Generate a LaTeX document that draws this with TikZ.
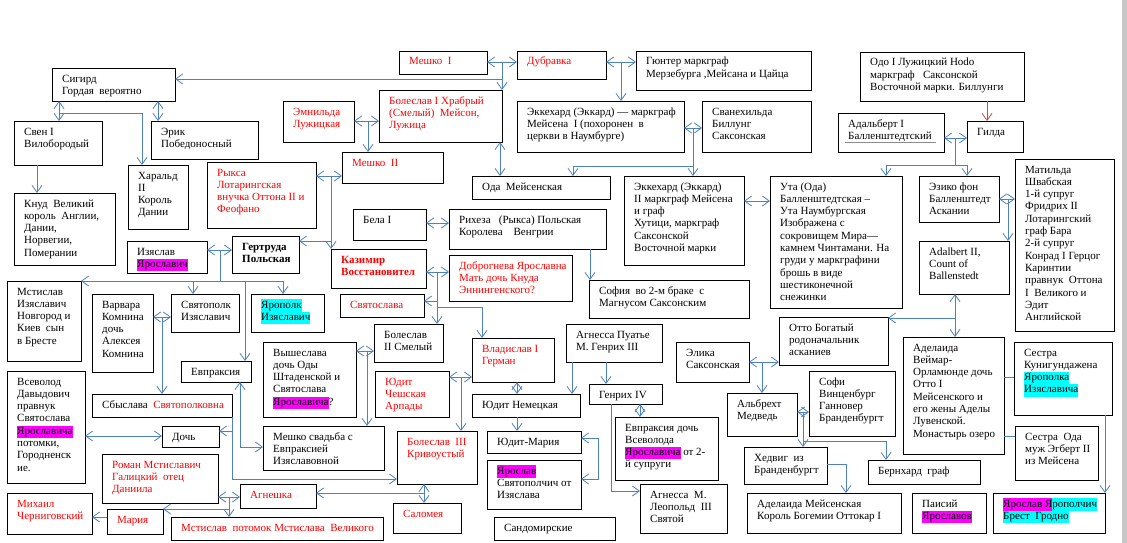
\documentclass[tikz,border=0pt]{standalone}
\usepackage{fontspec}
\setmainfont{Liberation Serif}
\usetikzlibrary{arrows.meta,calc}
\definecolor{conn}{RGB}{79,129,189}
\definecolor{hlmag}{RGB}{255,0,255}
\definecolor{hlcya}{RGB}{0,255,255}
\definecolor{odoc}{RGB}{192,80,77}
\newcommand\hlM[1]{{\setlength{\fboxsep}{0pt}\colorbox{hlmag}{\strut #1}}}
\newcommand\hlC[1]{{\setlength{\fboxsep}{0pt}\colorbox{hlcya}{\strut #1}}}
\newcommand\famb[7][]{%
  \node[box, minimum width={(#5-#3)*1pt}, minimum height={(#6-#4)*1pt}] (#2) at (#3,#4) {};
  \node[txt,#1] at ([shift={(10pt,-14pt)}]#2.north west) {\parbox[t]{300pt}{\raggedright #7}};
}
\begin{document}
\begin{tikzpicture}[x=1pt,y=-1pt,
  box/.style={draw=black, line width=0.8pt, fill=white, anchor=north west, inner sep=0pt, outer sep=0pt},
  txt/.style={anchor=base west, inner sep=0pt, font=\fontsize{11}{12.3}\selectfont},
  bld/.style={font=\fontsize{11}{12.3}\selectfont\bfseries},
  ar/.style={draw=conn, line width=0.8pt, -{Straight Barb[length=7pt,width=10pt]}},
  dbl/.style={draw=conn, line width=0.8pt, {Straight Barb[length=7pt,width=10pt]}-{Straight Barb[length=7pt,width=10pt]}},
  ln/.style={draw=conn, line width=0.8pt},
  arr/.style={draw=odoc, line width=0.8pt, -{Straight Barb[length=7pt,width=10pt]}}]
\useasboundingbox (0,0) rectangle (1127,543);
\fill[white] (0,0) rectangle (1127,543);
\fill[black!22] (1122,0) rectangle (1127,543);

% ---------- boxes ----------
\famb{sig}{52}{68}{175}{101}{Сигирд\\Гордая\ \ вероятно}
\famb{sven}{14}{121}{102}{165}{Свен I\\Вилобородый}
\famb{erik}{151}{121}{258}{159}{Эрик\\Победоносный}
\famb{harald}{128}{165}{188}{229}{Харальд\\II\\Король\\Дании}
\famb{knud}{14}{193}{115}{265}{Кнуд\ \ Великий\\король\ \ Англии,\\Дании,\\Норвегии,\\Померании}
\famb[text=red]{ryksa}{207}{162}{316}{228}{Рыкса\\Лотарингская\\внучка Оттона II и\\Феофано}
\famb[text=red]{emn}{283}{101}{354}{142}{Эмнильда\\Лужицкая}
\famb[text=red]{meshko1}{399}{51}{487}{74}{Мешко\ \ I}
\famb[text=red]{dubr}{517}{51}{606}{79}{Дубравка}
\famb{gunter}{636}{51}{811}{90}{Гюнтер маркграф\\Мерзебурга ,Мейсана и Цайца}
\famb[text=red]{boles1}{379}{90}{502}{142}{Болеслав I Храбрый\\(Смелый)\ \ Мейсон,\\Лужица}
\famb[text=red]{meshko2}{342}{152}{443}{183}{Мешко\ \ II}
\famb{oda}{472}{176}{610}{199}{Ода\ \ Мейсенская}
\famb{ekk1}{517}{101}{684}{152}{Эккехард (Эккард) — маркграф\\Мейсена\ \ I (похоронен\ \ в\\церкви в Наумбурге)}
\famb{svan}{702}{101}{811}{152}{Сванехильда\\Биллунг\\Саксонская}
\famb{ekk2}{624}{176}{744}{265}{Эккехард (Эккард)\\II маркграф Мейсена\\и граф\\Хутици, маркграф\\Саксонской\\Восточной марки}
\famb{uta}{770}{176}{902}{308}{Ута (Ода)\\Балленштедтская –\\Ута Наумбургская\\Изображена с\\сокровищем Мира—\\камнем Чинтамани. На\\груди у маркграфини\\брошь в виде\\шестиконечной\\снежинки}
\famb{odo}{860}{52}{1024}{101}{Одо I Лужицкий Hodo\\маркграф\ \ \ Саксонской\\Восточной марки. Биллунги}
\famb{gilda}{967}{121}{1023}{152}{Гилда}
\famb{adal1}{838}{113}{944}{152}{Адальберт I\\Балленштедтский}
\draw[black!45, line width=0.5pt] ([shift={(7pt,-29pt)}]adal1.north west) -- ++(91pt,0pt);
\famb{eziko}{919}{176}{999}{222}{Эзико фон\\Балленштедт\\Аскании}
\famb{matilda}{1015}{159}{1114}{331}{Матильда\\Швабская\\1-й супруг\\Фридрих II\\Лотарингский\\граф Бара\\2-й супруг\\Конрад I Герцог\\Каринтии\\правнук\ \ Оттона\\I\ \ Великого и\\Эдит\\Английской}
\famb{adal2}{919}{241}{1009}{294}{Adalbert II,\\Count of\\Ballenstedt}
\famb{otto}{779}{317}{888}{365}{Отто Богатый\\родоначальник\\асканиев}
\famb{adelw}{903}{337}{1004}{454}{Аделаида\\Веймар-\\Орламюнде дочь\\Отто I\\Мейсенского и\\его жены Аделы\\Лувенской.\\Монастырь озеро}
\famb{kunig}{1014}{342}{1112}{415}{Сестра\\Кунигундажена\\\hlC{Ярополка}\\\hlC{Изяславича}}
\famb{odasis}{1015}{426}{1098}{480}{Сестра\ \ Ода\\муж Эгберт II\\из Мейсена}
\famb{yarya}{993}{493}{1105}{533}{\hlM{Ярослав Я}\hlC{рополчич}\\\hlC{Брест\ \ Гродно}}
\famb{paisiy}{912}{493}{986}{533}{Паисий\\\hlM{Ярославов}}
\famb{bernh}{868}{460}{980}{484}{Бернхард\ \ граф}
\famb{sofi}{809}{371}{895}{436}{Софи\\Винценбург\\Ганновер\\Бранденбургт}
\famb{albr}{727}{393}{797}{436}{Альбрехт\\Медведь}
\famb{hedv}{744}{447}{827}{484}{Хедвиг\ \ из\\Бранденбургт}
\famb{adelm}{747}{493}{901}{533}{Аделаида Мейсенская\\Король Богемии Оттокар I}
\famb{elika}{676}{342}{749}{382}{Элика\\Саксонская}
\famb{sofia}{589}{280}{749}{318}{София\ \ во 2-м браке\ \ с\\Магнусом Саксонским}
\famb{agnp}{566}{324}{662}{362}{Агнесса Пуатье\\М. Генрих III}
\famb{henr4}{589}{384}{662}{404}{Генрих IV}
\famb{evpr2}{615}{417}{718}{480}{Евпраксия дочь\\Всеволода\\\hlM{Ярославича} от 2-\\й супруги}
\famb{agnm}{640}{484}{727}{533}{Агнесса\ \ М.\\Леопольд\ \ III\\Святой}
\famb{judn}{472}{394}{580}{417}{Юдит Немецкая}
\famb{judm}{487}{431}{581}{453}{Юдит-Мария}
\famb{yarsv}{487}{460}{581}{509}{\hlM{Ярослав}\\Святополчич от\\Изяслава}
\famb{sand}{494}{517}{615}{540}{Сандомирские}
\famb[text=red]{vlad}{472}{338}{554}{382}{Владислав I\\Герман}
\famb{bela}{353}{209}{426}{240}{Бела I}
\famb{rikh}{449}{209}{606}{249}{Рихеза\ \ \ (Рыкса) Польская\\Королева\ \ \ \ Венгрии}
\famb[text=red,bld]{kazim}{331}{249}{426}{288}{Казимир\\Восстановител}
\famb[text=red]{dobr}{449}{255}{572}{301}{Доброгнева Ярославна\\Мать дочь Кнуда\\Эннингенского?}
\famb[text=red]{svsl}{340}{294}{424}{317}{Святослава}
\famb{boles2}{374}{324}{443}{362}{Болеслав\\II Смелый}
\famb{izyas}{127}{241}{207}{273}{Изяслав\\\hlM{Ярославич}}
\famb[bld]{gert}{232}{236}{299}{273}{Гертруда\\Польская}
\famb{mstis}{7}{281}{81}{361}{Мстислав\\Изяславич\\Новгород и\\Киев\ \ сын\\в Бресте}
\famb{varv}{92}{294}{153}{372}{Варвара\\Комнина\\дочь\\Алексея\\Комнина}
\famb{svpk}{171}{294}{239}{332}{Святополк\\Изяславич}
\famb{yarop}{251}{294}{324}{332}{\hlC{Ярополк}\\\hlC{Изяславич}}
\famb{evpr1}{181}{361}{251}{382}{Евпраксия}
\famb{vysh}{263}{342}{356}{417}{Вышеслава\\дочь Оды\\Штаденской и\\Святослава\\\hlM{Ярославича}?}
\famb[text=red]{judch}{375}{371}{449}{417}{Юдит\\Чешская\\Арпады}
\famb{meshsv}{263}{426}{384}{470}{Мешко свадьба с\\Евпраксией\\Изяславовной}
\famb[text=red]{boles3}{397}{431}{477}{484}{Болеслав\ \ III\\Кривоустый}
\famb[text=red]{salom}{393}{503}{461}{533}{Саломея}
\famb[text=red]{agnesh}{240}{484}{316}{508}{Агнешка}
\famb{vsev}{7}{371}{85}{483}{Всеволод\\Давыдович\\правнук\\Святослава\\\hlM{Ярославича}\\потомки,\\Городненск\\ие.}
\famb{sbys}{92}{394}{232}{417}{Сбыслава\ \ \textcolor{red}{Святополковна}}
\famb{doch}{162}{426}{219}{447}{Дочь}
\famb[text=red]{roman}{102}{454}{218}{503}{Роман Мстиславич\\Галицкий\ \ отец\\Даниила}
\famb[text=red]{mikh}{7}{493}{92}{534}{Михаил\\Черниговский}
\famb[text=red]{maria}{107}{509}{163}{534}{Мария}
\famb[text=red]{mstpot}{171}{517}{383}{540}{Мстислав\ \ потомок Мстислава\ \ Великого}

% ---------- connectors ----------
\coordinate (jm1) at (502,62);
\draw[dbl] (meshko1.east |- jm1) -- (dubr.west |- jm1);
\draw[ar] (jm1) -- (jm1 |- boles1.north);
\coordinate (jm1b) at (502,79);
\draw[ar] (jm1b) -- (sig.east |- jm1b);

\coordinate (jg) at (621,62);
\draw[dbl] (dubr.east |- jg) -- (gunter.west |- jg);
\draw[ar] (jg) -- (jg |- ekk1.north);

\coordinate (je) at (368,121);
\draw[dbl] (emn.east |- je) -- (boles1.west |- je);
\draw[ar] (je) -- (je |- meshko2.north);

\coordinate (jbo) at (500,150);
\draw[dbl] (boles1.south -| jbo) -- (oda.north -| jbo);

\coordinate (js) at (59,113);
\draw[dbl] (sig.south -| js) -- (sven.north -| js);
\coordinate (jh) at (142,113);
\draw[ar] (js) -- (jh) -- (jh |- harald.north);
\coordinate (jer) at (158,110);
\draw[dbl] (sig.south -| jer) -- (erik.north -| jer);
\coordinate (jkn) at (37,180);
\draw[ar] (sven.south -| jkn) -- (knud.north -| jkn);

\coordinate (jes) at (693,128);
\draw[dbl] (ekk1.east |- jes) -- (svan.west |- jes);
\draw[ar] (jes) -- (jes |- ekk2.north);
\coordinate (jes2) at (693,166);
\coordinate (jes3) at (573,166);
\draw[ar] (jes2) -- (jes3) -- (jes3 |- oda.north);

\coordinate (jeu) at (757,201);
\draw[dbl] (ekk2.east |- jeu) -- (uta.west |- jeu);

\coordinate (jog) at (987,110);
\draw[arr] (odo.south -| jog) -- (gilda.north -| jog);

\coordinate (jag) at (955,138);
\draw[dbl] (adal1.east |- jag) -- (gilda.west |- jag);
\coordinate (jag2) at (955,165);
\coordinate (ju) at (886,165);
\coordinate (jz) at (967,165);
\draw[ar] (jag) -- (jag2) -- (ju) -- (ju |- uta.north);
\draw[ar] (jag2) -- (jz) -- (jz |- eziko.north);

\coordinate (jzm) at (1008,199);
\draw[dbl] (eziko.east |- jzm) -- (matilda.west |- jzm);
\draw[ar] (jzm) -- (jzm |- adal2.north);

\coordinate (jaa) at (955,318);
\draw[dbl] (adal2.south -| jaa) -- (adelw.north -| jaa);
\draw[ar] (jaa) -- (otto.east |- jaa);

\coordinate (jak) at (1009,377);
\draw[ln] (adelw.east |- jak) -- (kunig.west |- jak);
\coordinate (jao) at (1009,436);
\draw[ln] (adelw.east |- jao) -- (odasis.west |- jao);

\coordinate (jky) at (1105,460);
\draw[ar] (kunig.south -| jky) -- (yarya.north -| jky);

\coordinate (jeo) at (762,362);
\draw[dbl] (elika.east |- jeo) -- (otto.west |- jeo);
\draw[ar] (jeo) -- (jeo |- albr.north);

\coordinate (jas) at (803,412);
\draw[dbl] (albr.east |- jas) -- (sofi.west |- jas);
\draw[ar] (jas) -- (jas |- hedv.north);
\coordinate (jas2) at (803,441);
\coordinate (jb) at (886,441);
\draw[ar] (jas2) -- (jb) -- (jb |- bernh.north);

\coordinate (jha) at (846,464);
\draw[ar] (hedv.east |- jha) -- (jha) -- (jha |- adelm.north);

\coordinate (jrs) at (590,265);
\draw[ar] (rikh.south -| jrs) -- (sofia.north -| jrs);

\coordinate (jap1) at (572,375);
\coordinate (jap2) at (606,375);
\draw[ar] (agnp.south -| jap1) -- (judn.north -| jap1);
\draw[ar] (agnp.south -| jap2) -- (henr4.north -| jap2);

\coordinate (jhe) at (640,410);
\draw[dbl] (henr4.south -| jhe) -- (evpr2.north -| jhe);
\coordinate (jhag) at (611,491);
\draw[ar] (henr4.south -| jhag) -- (jhag) -- (agnm.west |- jhag);

\coordinate (jjy1) at (598,438);
\coordinate (jjy2) at (598,479);
\draw[dbl] (judm.east |- jjy1) -- (jjy1) -- (jjy2) -- (yarsv.east |- jjy2);

\coordinate (jvj) at (517,388);
\draw[dbl] (vlad.south -| jvj) -- (judn.north -| jvj);
\coordinate (jjj) at (517,424);
\draw[ar] (judn.south -| jjj) -- (judm.north -| jjj);

\coordinate (jbr) at (437,223);
\draw[dbl] (bela.east |- jbr) -- (rikh.west |- jbr);

\coordinate (jkd) at (437,272);
\draw[dbl] (kazim.east |- jkd) -- (dobr.west |- jkd);
\draw[ar] (jkd) -- (jkd |- boles2.north);
\coordinate (jks) at (437,301);
\draw[ar] (jks) -- (svsl.east |- jks);
\coordinate (jkv) at (437,307);
\coordinate (jkv2) at (482,307);
\draw[ar] (jkv) -- (jkv2) -- (jkv2 |- vlad.north);

\coordinate (jrm) at (331,176);
\draw[dbl] (ryksa.east |- jrm) -- (meshko2.west |- jrm);
\draw[ar] (jrm) -- (jrm |- kazim.north);
\coordinate (jrg) at (331,241);
\draw[ar] (jrg) -- (gert.east |- jrg);

\coordinate (jig) at (220,250);
\draw[dbl] (izyas.east |- jig) -- (gert.west |- jig);
\coordinate (jig2) at (220,281);
\coordinate (jml) at (283,281);
\draw[ln] (jig) -- (jig2);
\draw[ar] (jig2) -- (mstis.north east);
\draw[ar] (jig2) -- (jml) -- (jml |- yarop.north);
\coordinate (jsp) at (193,281);
\draw[ar] (jsp) -- (jsp |- svpk.north);
\coordinate (jev) at (245,281);
\draw[ar] (jev) -- (jev |- evpr1.north);

\coordinate (jvs) at (162,317);
\draw[dbl] (varv.east |- jvs) -- (svpk.west |- jvs);
\draw[ar] (jvs) -- (jvs |- sbys.north);

\coordinate (jvb) at (367,351);
\draw[dbl] (vysh.east |- jvb) -- (boles2.west |- jvb);
\draw[ar] (jvb) -- (jvb |- meshsv.north);

\coordinate (jjv) at (461,377);
\draw[dbl] (judch.east |- jjv) -- (vlad.west |- jjv);
\draw[ar] (jjv) -- (jjv |- boles3.north);

\coordinate (jbs) at (424,493);
\draw[dbl] (boles3.south -| jbs) -- (salom.north -| jbs);
\draw[ar] (jbs) -- (agnesh.east |- jbs);

\coordinate (jsb1) at (232,479);
\coordinate (jsb2) at (232,431);
\draw[ar] (sbys.south east) -- (jsb1) -- (boles3.west |- jsb1);
\draw[ar] (jsb2) -- (doch.east |- jsb2);

\coordinate (jem) at (240,447);
\draw[dbl] (evpr1.south -| jem) -- (jem) -- (meshsv.west |- jem);

\coordinate (jvd) at (120,436);
\draw[dbl] (vsev.east |- jvd) -- (doch.west |- jvd);

\coordinate (jra) at (229,497);
\draw[dbl] (roman.east |- jra) -- (agnesh.west |- jra);
\draw[ar] (jra) -- (jra |- mstpot.north);
\coordinate (jra2) at (229,509);
\draw[ar] (jra2) -- (maria.north east);

\coordinate (jmm) at (100,517);
\draw[ar] (maria.west |- jmm) -- (mikh.east |- jmm);
\end{tikzpicture}
\end{document}
